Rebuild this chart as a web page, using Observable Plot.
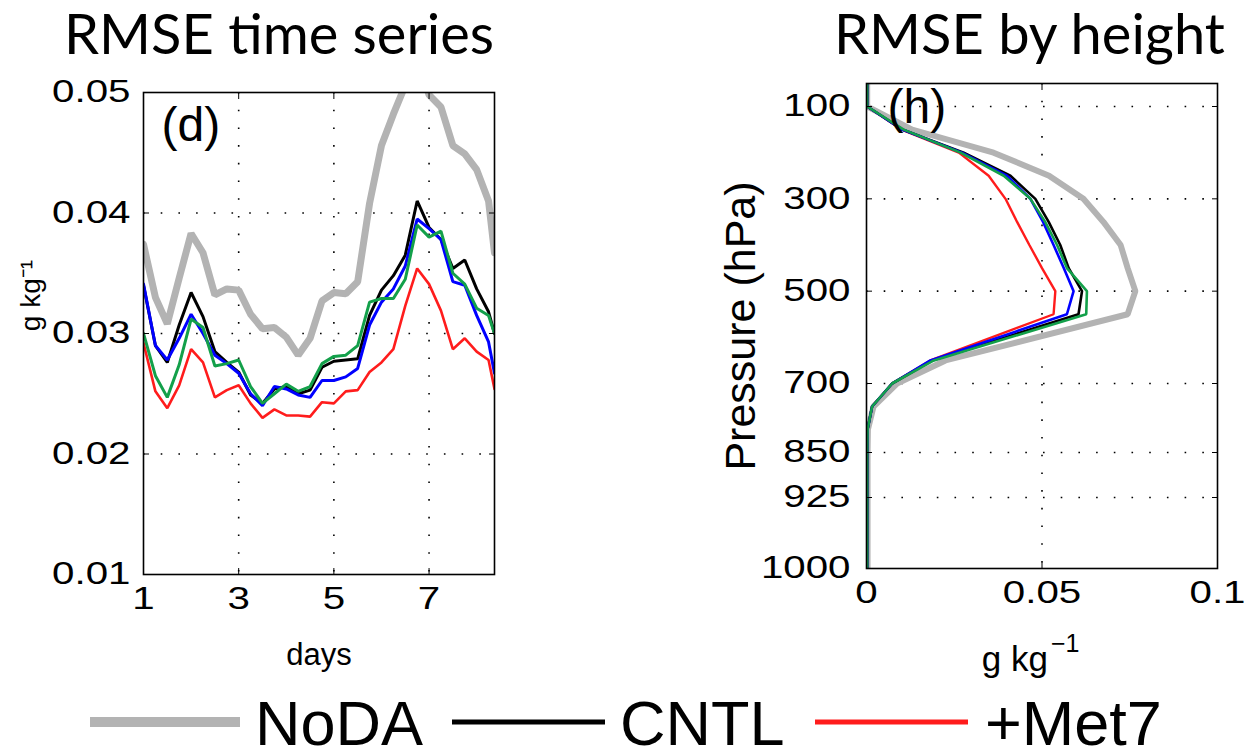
<!DOCTYPE html>
<html><head><meta charset="utf-8">
<script src="https://cdn.jsdelivr.net/npm/d3@7"></script>
<script src="https://cdn.jsdelivr.net/npm/@observablehq/plot@0.6"></script>
<style>
body{margin:0;background:#fff;}
#root{position:relative;width:1244px;height:749px;overflow:hidden;background:#fff;font-family:"Liberation Sans",Arial,sans-serif;}
.title{position:absolute;top:0px;font-family:Lato,"Open Sans",sans-serif;font-size:56px;line-height:66px;color:#000;white-space:nowrap;}
#left{position:absolute;left:0;top:66px;}
#right{position:absolute;left:620px;top:66px;}
#legend{position:absolute;left:0;top:680px;}
</style></head>
<body><div id="root">
<div class="title" id="t1" style="left:64px">RMSE time series</div>
<div class="title" id="t2" style="left:834px">RMSE by height</div>
<div id="left"></div><div id="right"></div><div id="legend"></div>
</div>
<script>
// ---------- Panel (d): RMSE time series ----------
const days = [1,1.25,1.5,1.75,2,2.25,2.5,2.75,3,3.25,3.5,3.75,4,4.25,4.5,4.75,5,5.25,5.5,5.75,6,6.25,6.5,6.75,7,7.25,7.5,7.75,8,8.25,8.375];
const tsNoDA  = [0.0374,0.0330,0.0308,0.0346,0.0383,0.0367,0.0332,0.0337,0.0336,0.0316,0.0304,0.0305,0.0297,0.0282,0.0296,0.0327,0.0334,0.0333,0.0343,0.0408,0.0456,0.0482,0.0506,0.0530,0.0498,0.0488,0.0456,0.0449,0.0436,0.0410,0.0367];
const tsCNTL  = [0.0340,0.0290,0.0276,0.0307,0.0334,0.0314,0.0285,0.0276,0.0268,0.0249,0.0242,0.0254,0.0256,0.0250,0.0253,0.0272,0.0277,0.0278,0.0279,0.0315,0.0336,0.0348,0.0365,0.0410,0.0388,0.0378,0.0354,0.0361,0.0337,0.0318,0.0300];
const tsBlue  = [0.0341,0.0290,0.0278,0.0296,0.0316,0.0300,0.0282,0.0275,0.0267,0.0250,0.0240,0.0256,0.0254,0.0249,0.0247,0.0261,0.0261,0.0264,0.0271,0.0307,0.0326,0.0337,0.0356,0.0395,0.0387,0.0378,0.0343,0.0340,0.0315,0.0293,0.0267];
const tsGreen = [0.0300,0.0265,0.0247,0.0274,0.0312,0.0305,0.0273,0.0275,0.0278,0.0256,0.0242,0.0250,0.0258,0.0252,0.0256,0.0275,0.0281,0.0282,0.0290,0.0326,0.0329,0.0329,0.0345,0.0390,0.0380,0.0385,0.0350,0.0341,0.0321,0.0315,0.0300];
const tsMet7  = [0.0292,0.0252,0.0238,0.0257,0.0287,0.0276,0.0247,0.0253,0.0257,0.0242,0.0230,0.0237,0.0232,0.0232,0.0231,0.0243,0.0242,0.0252,0.0253,0.0268,0.0276,0.0287,0.0323,0.0354,0.0341,0.0319,0.0287,0.0296,0.0285,0.0278,0.0254];
const dayTicks = [1,3,5,7];
const rmseTicks = [0.01,0.02,0.03,0.04,0.05];

// ---------- Panel (h): RMSE by height ----------
const levels  = [50,100,150,200,250,300,350,400,450,500,550,650,700,750,800,850,925,1000];
const pNoDA   = [0.0002,0.0002,0.0130,0.0362,0.0520,0.0618,0.0675,0.0724,0.0744,0.0766,0.0744,0.0225,0.0087,0.0020,0.0004,0.0003,0.0003,0.0003];
const pCNTL   = [0.0002,0.0002,0.0102,0.0277,0.0410,0.0481,0.0519,0.0552,0.0576,0.0614,0.0604,0.0187,0.0073,0.0016,0.0003,0.0002,0.0002,0.0002];
const pBlue   = [0.0002,0.0002,0.0102,0.0272,0.0400,0.0467,0.0503,0.0533,0.0562,0.0590,0.0571,0.0182,0.0073,0.0016,0.0003,0.0002,0.0002,0.0002];
const pGreen  = [0.0002,0.0002,0.0106,0.0268,0.0391,0.0467,0.0509,0.0543,0.0571,0.0628,0.0626,0.0192,0.0073,0.0016,0.0003,0.0002,0.0002,0.0002];
const pMet7   = [0.0002,0.0002,0.0100,0.0263,0.0348,0.0396,0.0429,0.0464,0.0500,0.0538,0.0533,0.0182,0.0073,0.0016,0.0003,0.0002,0.0002,0.0002];
const pressureTicks = [100,300,500,700,850,925,1000];
const rmseXTicks = [0,0.05,0.1];
// the pressure axis of the original is not uniform: knots of its (piecewise) spacing
const axisKnots = [50,100,700,850,925,1000];
const axisKnotPos = [0,23,300,369,414,485];

const seriesNames = ["NoDA","CNTL","Exp (blue)","Exp (green)","+Met7"];
const seriesColors = ["#b3b3b3","#000000","#0000ff","#13a04a","#ff1c1c"];
const legendNames = ["NoDA","CNTL","+Met7"];
const legendColors = ["#b3b3b3","#000000","#ff1c1c"];

// draw order: gray, red, black, blue, green
const order = [0,4,1,2,3];
const widthsL = [7,3,3,3,2.6];
const widthsR = [6,2.6,2.6,2.6,2.4];

const tsValues = [tsNoDA,tsCNTL,tsBlue,tsGreen,tsMet7];
const pValues = [pNoDA,pCNTL,pBlue,pGreen,pMet7];

const gridStyle = {stroke:"#000", strokeOpacity:1, strokeWidth:1.6, strokeDasharray:"1.6,16.1"};
const FONT = "'Liberation Sans', Arial, Helvetica, sans-serif";

function stretch(svg, s){
  svg.querySelectorAll('g[aria-label="x-axis tick label"] text, g[aria-label="y-axis tick label"] text').forEach(t=>{
    if (t.hasAttribute("x")) t.setAttribute("x", (+t.getAttribute("x"))/s);
    t.setAttribute("transform", (t.getAttribute("transform")||"") + ` scale(${s},1)`);
  });
}

const leftMarks = [
  Plot.gridX([3,5,7], gridStyle),
  Plot.gridY([0.02,0.03,0.04], gridStyle),
  ...order.map(i => Plot.line(days.map((d,j)=>({day:d, value:tsValues[i][j], series:seriesNames[i]})),
    {x:"day", y:"value", stroke:seriesColors[i], strokeWidth:widthsL[i], clip:true, strokeLinejoin:"miter"})),
  Plot.axisX(dayTicks, {anchor:"bottom", tickSize:0, tickPadding:12, fontSize:31, label:null}),
  Plot.axisY(rmseTicks, {anchor:"left", tickSize:0, tickPadding:13, fontSize:31, label:null, tickFormat:d=>String(d)}),
  Plot.axisX([3,5,7], {anchor:"bottom", tickSize:-6, tickFormat:()=>"", label:null}),
  Plot.axisX([3,5,7], {anchor:"top", tickSize:-6, tickFormat:()=>"", label:null}),
  Plot.axisY([0.02,0.03,0.04], {anchor:"left", tickSize:-6, tickFormat:()=>"", label:null}),
  Plot.axisY([0.02,0.03,0.04], {anchor:"right", tickSize:-6, tickFormat:()=>"", label:null}),
  Plot.frame({stroke:"#000", strokeWidth:1.6}),
  Plot.text(["(d)"], {frameAnchor:"top-left", dx:18, dy:14, lineAnchor:"top", textAnchor:"start", fontSize:48}),
  Plot.text(["days"], {frameAnchor:"bottom", dy:81, fontSize:31, lineAnchor:"middle"}),
  Plot.text(["g kg⁻¹"], {frameAnchor:"left", dx:-112, dy:-38, rotate:-90, fontSize:28, textAnchor:"middle", lineAnchor:"middle"})
];

const leftPlot = Plot.plot({
  width:620, height:610,
  marginLeft:143, marginRight:126, marginTop:26, marginBottom:102,
  style:{fontFamily:FONT, fontSize:"31px", background:"transparent", color:"#000", overflow:"visible"},
  x:{domain:[1,8.375], label:null},
  y:{domain:[0.01,0.05], label:null},
  marks:leftMarks
});
stretch(leftPlot, 1.3);
document.getElementById("left").appendChild(leftPlot);

const pressureAxis = d3.scaleLinear().domain(axisKnots).range(axisKnotPos);

const rightMarks = [
  Plot.gridX([0.05], gridStyle),
  Plot.gridY([100,300,500,700,850,925], gridStyle),
  ...order.map(i => Plot.line(levels.map((p,j)=>({level:p, value:pValues[i][j], series:seriesNames[i]})),
    {x:"value", y:"level", stroke:seriesColors[i], strokeWidth:widthsR[i], clip:true, strokeLinejoin:"miter"})),
  Plot.axisX(rmseXTicks, {anchor:"bottom", tickSize:0, tickPadding:12, fontSize:31, label:null, tickFormat:d=>String(d)}),
  Plot.axisY(pressureTicks, {anchor:"left", tickSize:0, tickPadding:16, fontSize:31, label:null, tickFormat:d=>String(d)}),
  Plot.axisX([0.05], {anchor:"bottom", tickSize:-6, tickFormat:()=>"", label:null}),
  Plot.axisX([0.05], {anchor:"top", tickSize:-6, tickFormat:()=>"", label:null}),
  Plot.axisY([100,300,500,700,850,925], {anchor:"left", tickSize:-6, tickFormat:()=>"", label:null}),
  Plot.axisY([100,300,500,700,850,925], {anchor:"right", tickSize:-6, tickFormat:()=>"", label:null}),
  Plot.frame({stroke:"#000", strokeWidth:1.6}),
  Plot.text(["(h)"], {frameAnchor:"top-left", dx:21, dy:5, lineAnchor:"top", textAnchor:"start", fontSize:48}),
  Plot.text(["g kg"], {frameAnchor:"bottom", dx:6, dy:91, fontSize:35, textAnchor:"end", lineAnchor:"middle"}),
  Plot.text(["−1"], {frameAnchor:"bottom", dx:9, dy:75, fontSize:25, textAnchor:"start", lineAnchor:"middle"}),
  Plot.text(["Pressure (hPa)"], {frameAnchor:"left", dx:-125, dy:0, rotate:-90, fontSize:43, textAnchor:"middle", lineAnchor:"middle"})
];

const rightPlot = Plot.plot({
  width:624, height:610,
  marginLeft:246, marginRight:27, marginTop:17, marginBottom:108,
  style:{fontFamily:FONT, fontSize:"31px", background:"transparent", color:"#000", overflow:"visible"},
  x:{domain:[0,0.1], label:null},
  y:{transform:p => pressureAxis(p), domain:[0,485], reverse:true, label:null},
  marks:rightMarks
});
stretch(rightPlot, 1.3);
document.getElementById("right").appendChild(rightPlot);

// ---------- Legend ----------
const legendX = [[90,240,255],[452,605,620],[815,968,985]];
const legendW = [10,5,5];
let lg = `<svg width="1244" height="69" style="font-family:${FONT}">`;
legendNames.forEach((n,i)=>{
  const [x1,x2,tx] = legendX[i];
  lg += `<line x1="${x1}" x2="${x2}" y1="42" y2="42" stroke="${legendColors[i]}" stroke-width="${legendW[i]}"/>`;
  lg += `<text x="${tx}" y="65" font-size="63" fill="#000">${n}</text>`;
});
lg += `</svg>`;
document.getElementById("legend").innerHTML = lg;
</script>
</body></html>
